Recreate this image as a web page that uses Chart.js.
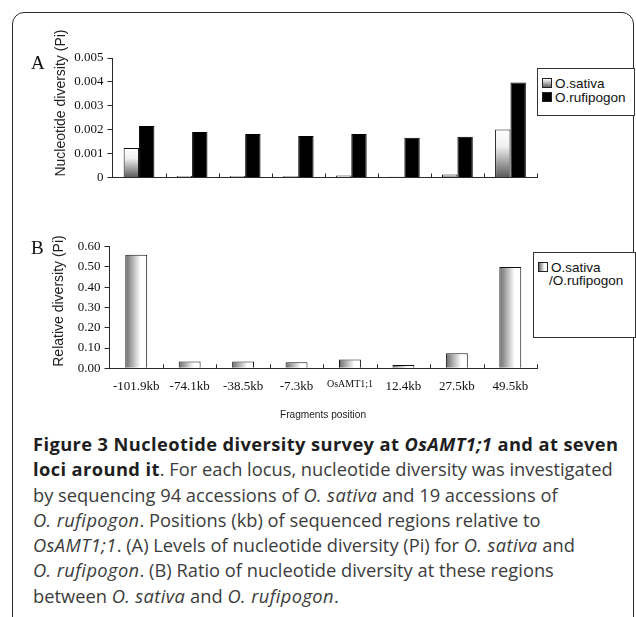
<!DOCTYPE html>
<html>
<head>
<meta charset="utf-8">
<script src="https://cdn.jsdelivr.net/npm/chart.js@4.4.1/dist/chart.umd.min.js"></script>
<style>
  html, body { margin: 0; padding: 0; background: #fff; }
  #page { position: relative; width: 636px; height: 617px; overflow: hidden; }
  #frame { position: absolute; left: 12px; top: 12px; width: 620px; height: 700px;
    border: 1.5px solid #2a2a2a; border-radius: 12px; }
  canvas { position: absolute; left: 0; }
  .lbl { position: absolute; font-family: "Liberation Serif", serif; font-size: 19px; color: #111; }
  .ytitle { position: absolute; font-family: "Liberation Sans", Arial, sans-serif; font-size: 14px;
    color: #222; white-space: nowrap; transform: translate(-50%, -50%) rotate(-90deg); }
  .xtitle { position: absolute; font-family: "Liberation Sans", Arial, sans-serif; font-size: 11px;
    color: #222; white-space: nowrap; transform: translateX(-50%) scaleX(0.92); }
  .legend { position: absolute; border: 1px solid #333; background: #fff;
    font-family: "Liberation Sans", Arial, sans-serif; font-size: 13.5px; color: #111; }
  .legend .row { position: absolute; left: 4px; white-space: nowrap; line-height: 14px; }
  .mk { display: inline-block; width: 8px; height: 8px; border: 1px solid #222; margin-right: 3px; vertical-align: 0px; }
  .mk.sat { background: linear-gradient(#fff, #666); }
  .mk.sat2 { background: linear-gradient(90deg, #666, #fff 70%); }
  .mk.ruf { background: #000; }
  #caption { position: absolute; left: 33px; top: 431px; font-family: "Open Sans", sans-serif;
    font-size: 18.3px; line-height: 25.3px; color: #3c3c3c; white-space: nowrap; }
  #caption b { color: #1e1e1e; letter-spacing: 0.4px; }
  #caption i { letter-spacing: 0.4px; }
</style>
</head>
<body>
<div id="page">
  <div id="frame"></div>

  <canvas id="chartA" width="636" height="200" style="top:0"></canvas>
  <canvas id="chartB" width="636" height="230" style="top:200px"></canvas>

  <div class="lbl" style="left:31px; top:52px;">A</div>
  <div class="lbl" style="left:31px; top:237px;">B</div>
  <div class="ytitle" style="left:60px; top:103px;">Nucleotide diversity (Pi)</div>
  <div class="ytitle" style="left:58px; top:301px;">Relative diversity (Pi)</div>
  <div class="xtitle" style="left:323px; top:408px;">Fragments position</div>

  <div class="legend" style="left:537px; top:68px; width:96px; height:46px;">
    <div class="row" style="top:8px;"><span class="mk sat"></span>O.sativa</div>
    <div class="row" style="top:22px;"><span class="mk ruf"></span>O.rufipogon</div>
  </div>
  <div class="legend" style="left:533px; top:252px; width:101px; height:84px;">
    <div class="row" style="top:8px;"><span class="mk sat2"></span>O.sativa</div>
    <div class="row" style="top:21px; left:15px;">/O.rufipogon</div>
  </div>

  <div id="caption">
    <b>Figure 3 Nucleotide diversity survey at <i>OsAMT1;1</i> and at seven</b><br>
    <b>loci around it</b>. For each locus, nucleotide diversity was investigated<br>
    by sequencing 94 accessions of <i>O. sativa</i> and 19 accessions of<br>
    <i>O. rufipogon</i>. Positions (kb) of sequenced regions relative to<br>
    <i>OsAMT1;1</i>. (A) Levels of nucleotide diversity (Pi) for <i>O. sativa</i> and<br>
    <i>O. rufipogon</i>. (B) Ratio of nucleotide diversity at these regions<br>
    between <i>O. sativa</i> and <i>O. rufipogon</i>.
  </div>
</div>

<script>
// fragment positions relative to OsAMT1;1
const positions = ['-101.9kb', '-74.1kb', '-38.5kb', '-7.3kb', 'OsAMT1;1', '12.4kb', '27.5kb', '49.5kb'];

// nucleotide diversity (Pi)
const sativaPi = [0.00123, 0.000065, 0.00006, 0.00005, 0.00008, 0.00003, 0.00013, 0.00201];
const rufipogonPi = [0.00215, 0.0019, 0.00182, 0.00174, 0.00182, 0.00166, 0.0017, 0.00397];

// O.sativa / O.rufipogon
const relativePi = [0.56, 0.034, 0.034, 0.030, 0.044, 0.016, 0.074, 0.50];

const ticksA = [0, 0.001, 0.002, 0.003, 0.004, 0.005];
const ticksB = [0, 0.1, 0.2, 0.3, 0.4, 0.5, 0.6];

const axisColor = '#2a2a2a';
const serif = 'Liberation Serif';

// small marks pointing up from the x axis at category borders
const innerTicks = {
  id: 'innerTicks',
  afterDraw(chart) {
    const { ctx, chartArea } = chart;
    const x = chart.scales.x;
    const n = chart.data.labels.length;
    const step = (chartArea.right - chartArea.left) / n;
    ctx.save();
    ctx.strokeStyle = axisColor;
    ctx.lineWidth = 1;
    for (let i = 0; i < n; i++) {
      const px = Math.round(x.getPixelForValue(i) + step / 2) + 0.5;
      ctx.beginPath();
      ctx.moveTo(px, chartArea.bottom);
      ctx.lineTo(px, chartArea.bottom - 4);
      ctx.stroke();
    }
    ctx.restore();
  }
};

const yAxis = (tickValues, fmt, width) => ({
  min: 0,
  max: tickValues[tickValues.length - 1],
  afterBuildTicks: s => { s.ticks = tickValues.map(v => ({ value: v })); },
  afterFit: s => { s.width = width; },
  grid: { drawOnChartArea: false, tickLength: 5, color: axisColor },
  border: { color: axisColor, width: 1 },
  ticks: { color: '#111', padding: 4, font: { family: serif, size: 13 }, callback: fmt }
});

// panel A
new Chart(document.getElementById('chartA'), {
  type: 'bar',
  data: {
    labels: positions,
    datasets: [
      {
        label: 'O.sativa',
        data: sativaPi,
        borderColor: '#111',
        borderWidth: 1,
        backgroundColor: c => {
          const area = c.chart.chartArea;
          if (!area) return '#ccc';
          const y = c.chart.scales.y;
          const top = y.getPixelForValue(c.raw || 0);
          const bottom = y.getPixelForValue(0);
          const g = c.chart.ctx.createLinearGradient(0, top, 0, Math.max(bottom, top + 1));
          g.addColorStop(0, '#ffffff');
          g.addColorStop(0.35, '#f0f0f0');
          g.addColorStop(1, '#5a5a5a');
          return g;
        }
      },
      {
        label: 'O.rufipogon',
        data: rufipogonPi,
        backgroundColor: '#000',
        borderColor: '#000',
        borderWidth: 1
      }
    ]
  },
  options: {
    responsive: false,
    animation: false,
    devicePixelRatio: 1,
    categoryPercentage: 0.58,
    barPercentage: 1.0,
    layout: { padding: { top: 58, right: 99, left: 62.5, bottom: 12.5 } },
    plugins: { legend: { display: false }, tooltip: { enabled: false } },
    scales: {
      x: {
        afterFit: s => { s.height = 10; },
        grid: { display: false },
        border: { color: axisColor, width: 1 },
        ticks: { display: false }
      },
      y: yAxis(ticksA, v => (v === 0 ? '0' : v.toFixed(3)), 50)
    }
  },
  plugins: [innerTicks]
});

// panel B
new Chart(document.getElementById('chartB'), {
  type: 'bar',
  data: {
    labels: positions,
    datasets: [
      {
        label: 'O.sativa /O.rufipogon',
        data: relativePi,
        borderColor: '#111',
        borderWidth: 1,
        backgroundColor: c => {
          const area = c.chart.chartArea;
          if (!area) return '#ccc';
          const x = c.chart.scales.x;
          const half = (area.right - area.left) / positions.length * 0.41 / 2;
          const mid = x.getPixelForValue(c.dataIndex);
          const g = c.chart.ctx.createLinearGradient(mid - half, 0, mid + half, 0);
          g.addColorStop(0, '#6a6a6a');
          g.addColorStop(0.7, '#ffffff');
          g.addColorStop(1, '#ffffff');
          return g;
        }
      }
    ]
  },
  options: {
    responsive: false,
    animation: false,
    devicePixelRatio: 1,
    categoryPercentage: 0.41,
    barPercentage: 1.0,
    layout: { padding: { top: 46.7, right: 99, left: 59.5, bottom: 31.7 } },
    plugins: { legend: { display: false }, tooltip: { enabled: false } },
    scales: {
      x: {
        afterFit: s => { s.height = 30; },
        grid: { display: false, drawTicks: false },
        border: { color: axisColor, width: 1 },
        ticks: {
          color: '#111',
          padding: 10,
          maxRotation: 0,
          autoSkip: false,
          font: c => (c.index === 4 ? { family: serif, size: 10 } : { family: serif, size: 13 })
        }
      },
      y: yAxis(ticksB, v => v.toFixed(2), 50)
    }
  },
  plugins: [innerTicks]
});
</script>
</body>
</html>
